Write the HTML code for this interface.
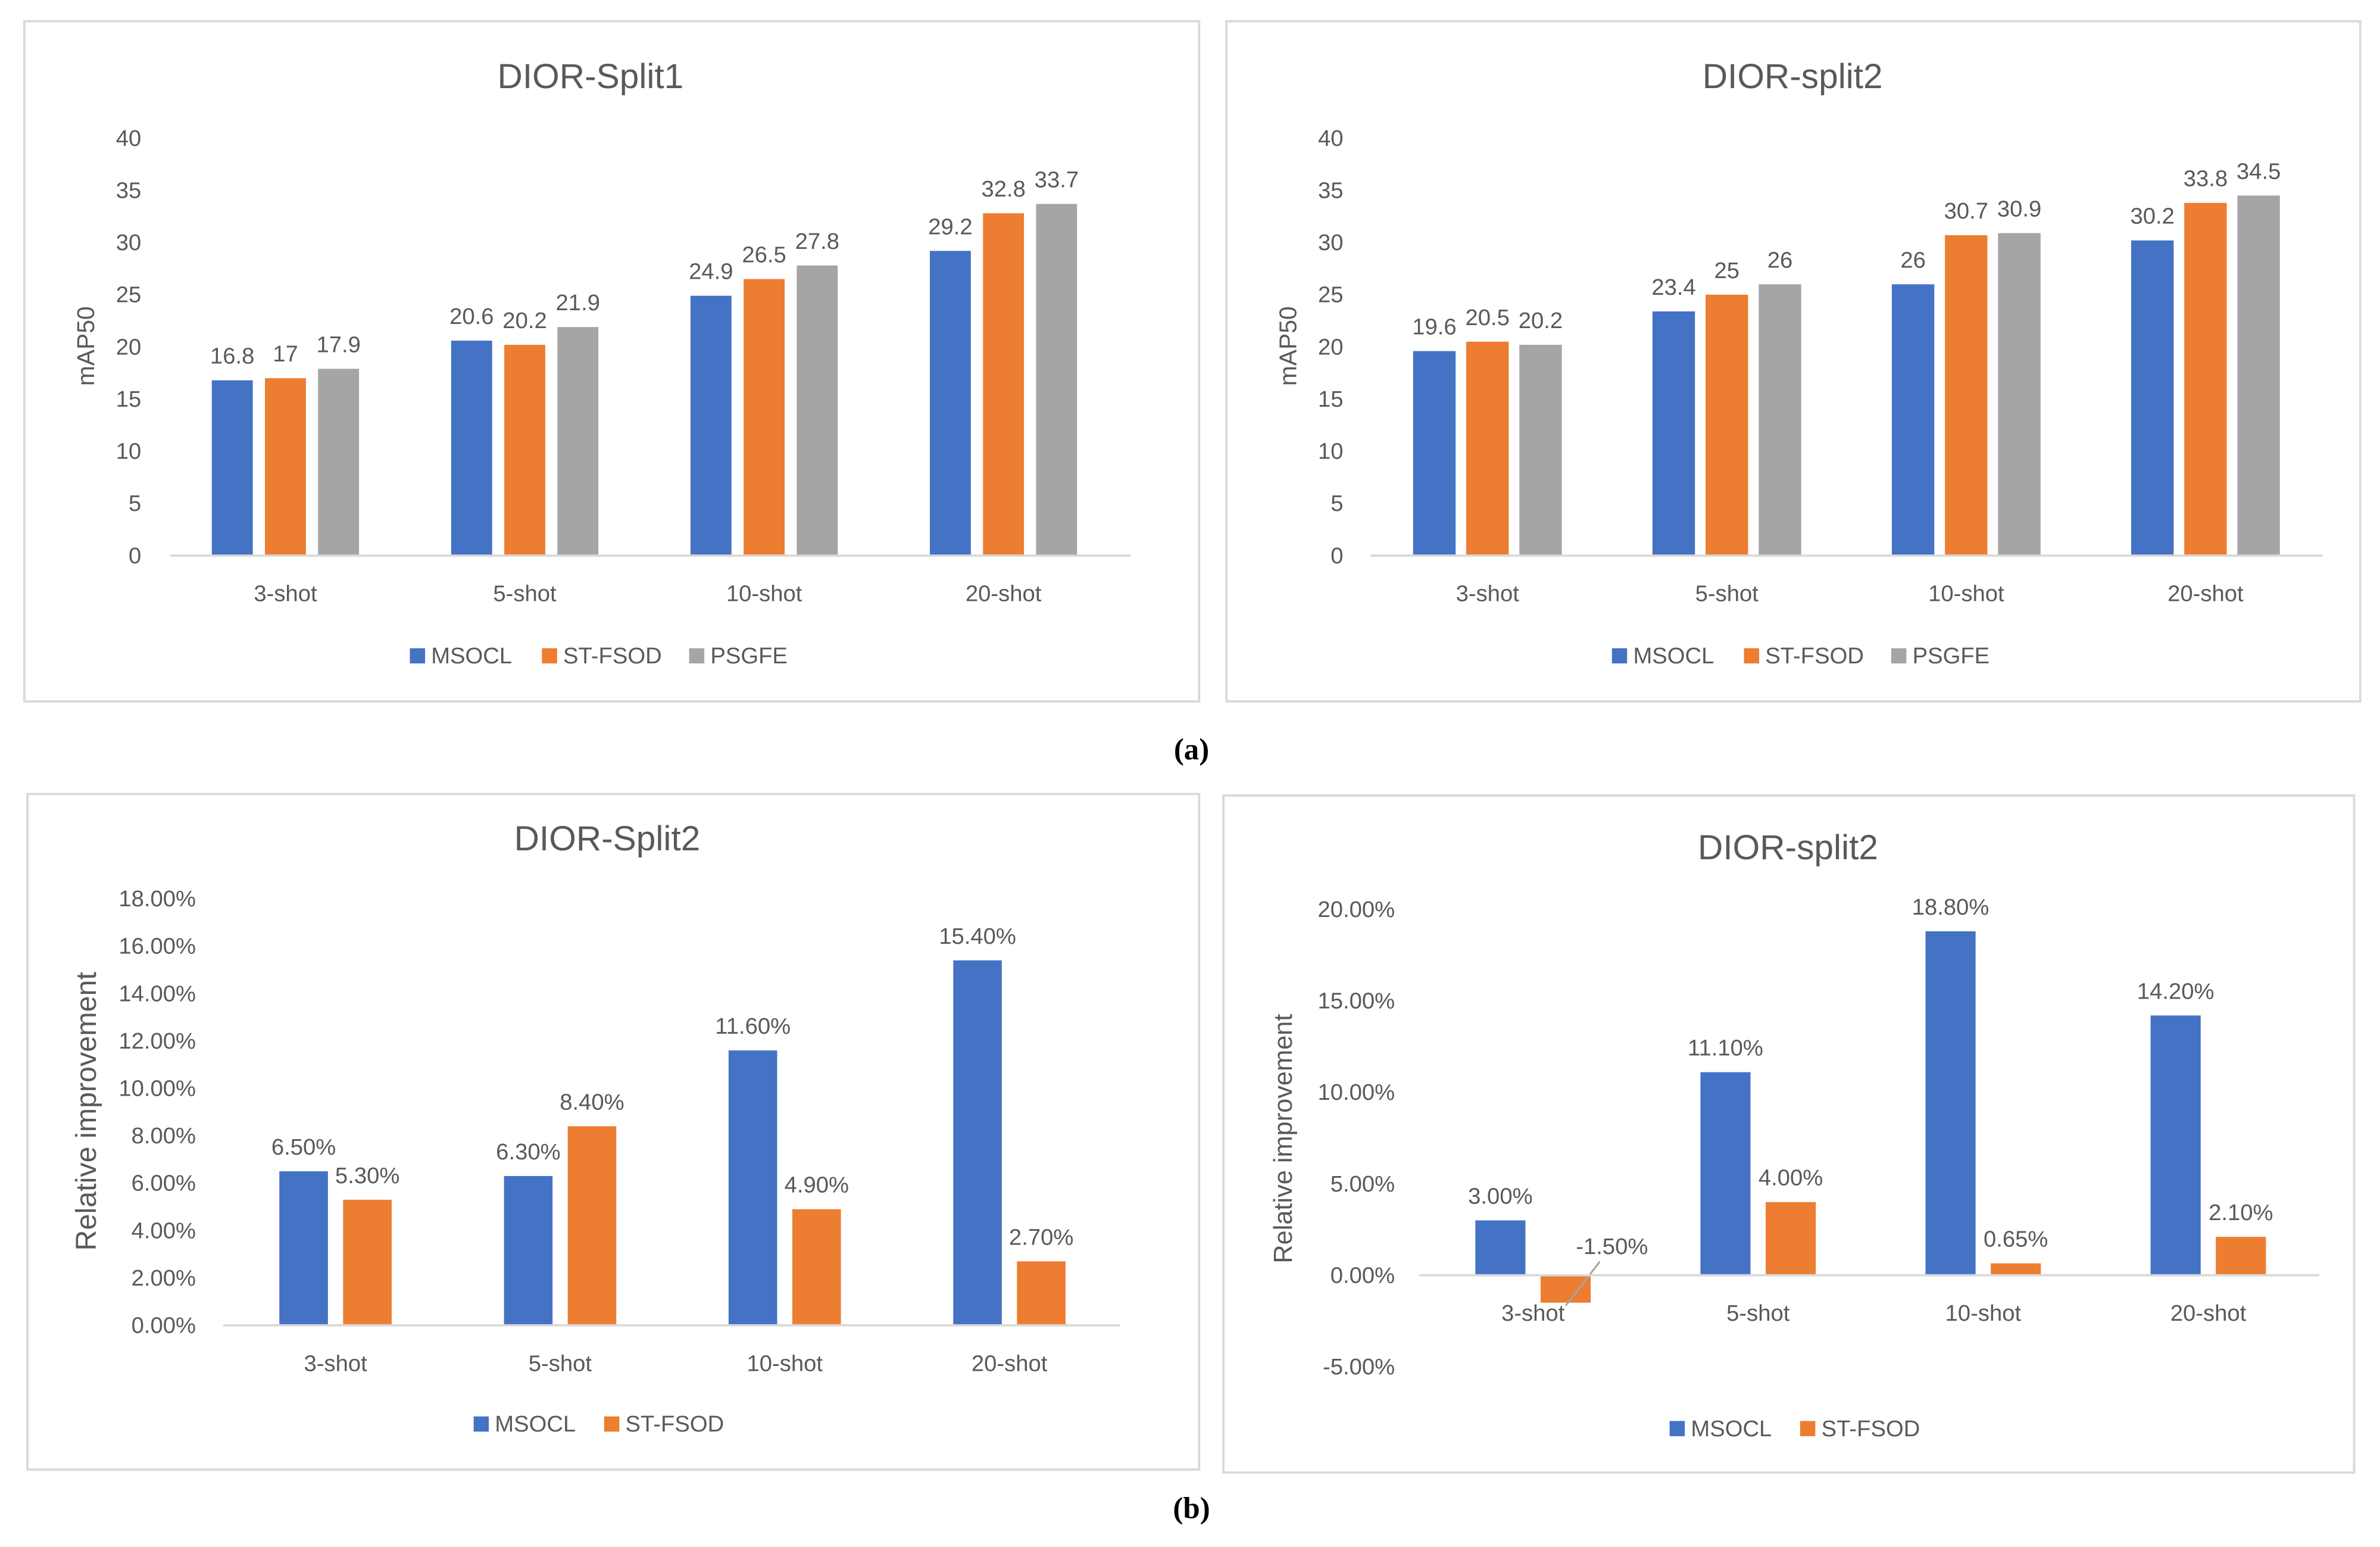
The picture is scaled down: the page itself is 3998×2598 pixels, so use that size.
<!DOCTYPE html>
<html><head><meta charset="utf-8"><style>
html,body{margin:0;padding:0;background:#fff;}
svg{display:block;}
text{font-family:"Liberation Sans",sans-serif;fill:#595959;}
</style></head><body>
<svg id="fig" width="3998" height="2598" viewBox="0 0 1568 1019" xmlns="http://www.w3.org/2000/svg">
<rect x="0" y="0" width="1568" height="1019" fill="#fff"/>
<text x="785" y="500" font-weight="bold" font-size="20" style="fill:#000;font-family:'Liberation Serif',serif" text-anchor="middle">(a)</text>
<text x="785" y="1000" font-weight="bold" font-size="20" style="fill:#000;font-family:'Liberation Serif',serif" text-anchor="middle">(b)</text>
</svg>
<script>
const NS='http://www.w3.org/2000/svg';
const COLORS=['#4472C4','#ED7D31','#A5A5A5'];
const categories=['3-shot','5-shot','10-shot','20-shot'];
// Chart A: DIOR-Split1
const a_msocl=[16.8,20.6,24.9,29.2];
const a_stfsod=[17,20.2,26.5,32.8];
const a_psgfe=[17.9,21.9,27.8,33.7];
const a_ticks=[0,5,10,15,20,25,30,35,40];
// Chart B: DIOR-split2
const b_msocl=[19.6,23.4,26,30.2];
const b_stfsod=[20.5,25,30.7,33.8];
const b_psgfe=[20.2,26,30.9,34.5];
const b_ticks=[0,5,10,15,20,25,30,35,40];
// Chart C: DIOR-Split2 relative improvement
const c_msocl=[6.5,6.3,11.6,15.4];
const c_stfsod=[5.3,8.4,4.9,2.7];
const c_labels_m=['6.50%','6.30%','11.60%','15.40%'];
const c_labels_s=['5.30%','8.40%','4.90%','2.70%'];
const c_ticks=[0,2,4,6,8,10,12,14,16,18];
// Chart D: DIOR-split2 relative improvement
const d_msocl=[3.0,11.1,18.8,14.2];
const d_stfsod=[-1.5,4.0,0.65,2.1];
const d_labels_m=['3.00%','11.10%','18.80%','14.20%'];
const d_labels_s=['-1.50%','4.00%','0.65%','2.10%'];
const d_ticks=[-5,0,5,10,15,20];
const svg=document.getElementById('fig');
function el(tag,attrs,parent,txt){const e=document.createElementNS(NS,tag);for(const k in attrs)e.setAttribute(k,attrs[k]);if(txt!==undefined)e.textContent=txt;(parent||svg).appendChild(e);return e;}
function chart(cfg){
  const g=el('g',{});
  
  
  const box=el('rect',{x:cfg.box[0],y:cfg.box[1],width:cfg.box[2]-cfg.box[0],height:cfg.box[3]-cfg.box[1],fill:'#fff',stroke:'#d9d9d9','stroke-width':1.5},g);
  
  
  const t=el('text',{x:cfg.titleX,y:cfg.titleY,'font-size':23,'text-anchor':'middle'},g,cfg.title);
  
  
  const y=v=>cfg.y0+(v-cfg.vmin)/(cfg.vmax-cfg.vmin)*(cfg.y1-cfg.y0);
  cfg.ticks.forEach(v=>{
    const tl=el('text',{x:cfg.tickX,y:y(v)+5,'font-size':15,'text-anchor':'end'},g,cfg.fmt(v));
    
    
  });
  const yt=el('text',{x:cfg.ytX,y:cfg.ytY,'font-size':cfg.ytSize,'text-anchor':'middle',transform:`rotate(-90 ${cfg.ytX} ${cfg.ytY})`},g,cfg.ytitle);
  
  
  const n=cfg.series.length;
  cfg.cats.forEach((c,i)=>{
    const cx=cfg.cx0+i*cfg.step;
    cfg.series.forEach((s,j)=>{
      const bx=cx-(n*cfg.pitch-(cfg.pitch-cfg.bw))/2+j*cfg.pitch;
      const v=s[i], top=y(Math.max(v,0)), bot=y(Math.min(v,0));
      const r=el('rect',{x:bx,y:top,width:cfg.bw,height:Math.max(bot-top,0.5),fill:COLORS[j]},g);
      
      
      let lx=bx+cfg.bw/2, ly=y(Math.max(v,0))-11;
      if(v<0){lx=bx+cfg.bw+14; ly=y(0)-14;
        const ln=el('line',{x1:bx+cfg.bw/2,y1:y(v)+2,x2:lx-8,y2:ly+5,stroke:'#A5A5A5','stroke-width':1.2},g);
        
        
      }
      const dl=el('text',{x:lx,y:ly,'font-size':15,'text-anchor':'middle'},g,cfg.lab[j][i]);
      
      
    });
    const cl=el('text',{x:cx,y:cfg.catY,'font-size':15,'text-anchor':'middle'},g,c);
    
    
  });
  const ax=el('line',{x1:cfg.ax0,x2:cfg.ax1,y1:y(0),y2:y(0),stroke:'#d9d9d9','stroke-width':1.5},g);
  
  
  cfg.snames.forEach((s,j)=>{
    const sq=el('rect',{x:cfg.legX[j],y:cfg.legY-5,width:10,height:10,fill:COLORS[j]},g);
    
    
    const lt=el('text',{x:cfg.legX[j]+14,y:cfg.legY+5,'font-size':15},g,s);
    
    
  });
}
const fmtN=v=>String(v), fmtP=v=>v.toFixed(2)+'%';
chart({name:'chart-dior-split1',box:[16,14,790,462],title:'DIOR-Split1',titleX:389,titleY:58,
  vmin:0,vmax:40,y0:366,y1:91,ticks:a_ticks,fmt:fmtN,tickX:93,ytitle:'mAP50',ytX:62,ytY:228,ytSize:16,
  cats:categories,cx0:188,step:157.7,bw:27,pitch:35,series:[a_msocl,a_stfsod,a_psgfe],
  lab:[a_msocl.map(String),a_stfsod.map(String),a_psgfe.map(String)],catY:396,ax0:112,ax1:745,
  snames:['MSOCL','ST-FSOD','PSGFE'],legX:[270,357,454],legY:432});
chart({name:'chart-dior-split2',box:[808,14,1555,462],title:'DIOR-split2',titleX:1181,titleY:58,
  vmin:0,vmax:40,y0:366,y1:91,ticks:b_ticks,fmt:fmtN,tickX:885,ytitle:'mAP50',ytX:854,ytY:228,ytSize:16,
  cats:categories,cx0:980,step:157.7,bw:28,pitch:35,series:[b_msocl,b_stfsod,b_psgfe],
  lab:[b_msocl.map(String),b_stfsod.map(String),b_psgfe.map(String)],catY:396,ax0:903,ax1:1530,
  snames:['MSOCL','ST-FSOD','PSGFE'],legX:[1062,1149,1246],legY:432});
chart({name:'chart-relative-split2-a',box:[18,523,790,968],title:'DIOR-Split2',titleX:400,titleY:560,
  vmin:0,vmax:18,y0:873,y1:592,ticks:c_ticks,fmt:fmtP,tickX:129,ytitle:'Relative improvement',ytX:63,ytY:732,ytSize:19,
  cats:categories,cx0:221,step:148,bw:32,pitch:42,series:[c_msocl,c_stfsod],
  lab:[c_labels_m,c_labels_s],catY:903,ax0:147,ax1:738,
  snames:['MSOCL','ST-FSOD'],legX:[312,398],legY:938});
chart({name:'chart-relative-split2-b',box:[806,524,1551,970],title:'DIOR-split2',titleX:1178,titleY:566,
  vmin:0,vmax:20,y0:840,y1:599,ticks:d_ticks,fmt:fmtP,tickX:919,ytitle:'Relative improvement',ytX:851,ytY:750,ytSize:17,
  cats:categories,cx0:1010,step:148.3,bw:33,pitch:43,series:[d_msocl,d_stfsod],
  lab:[d_labels_m,d_labels_s],catY:870,ax0:935,ax1:1528,
  snames:['MSOCL','ST-FSOD'],legX:[1100,1186],legY:941});
</script>
</body></html>
